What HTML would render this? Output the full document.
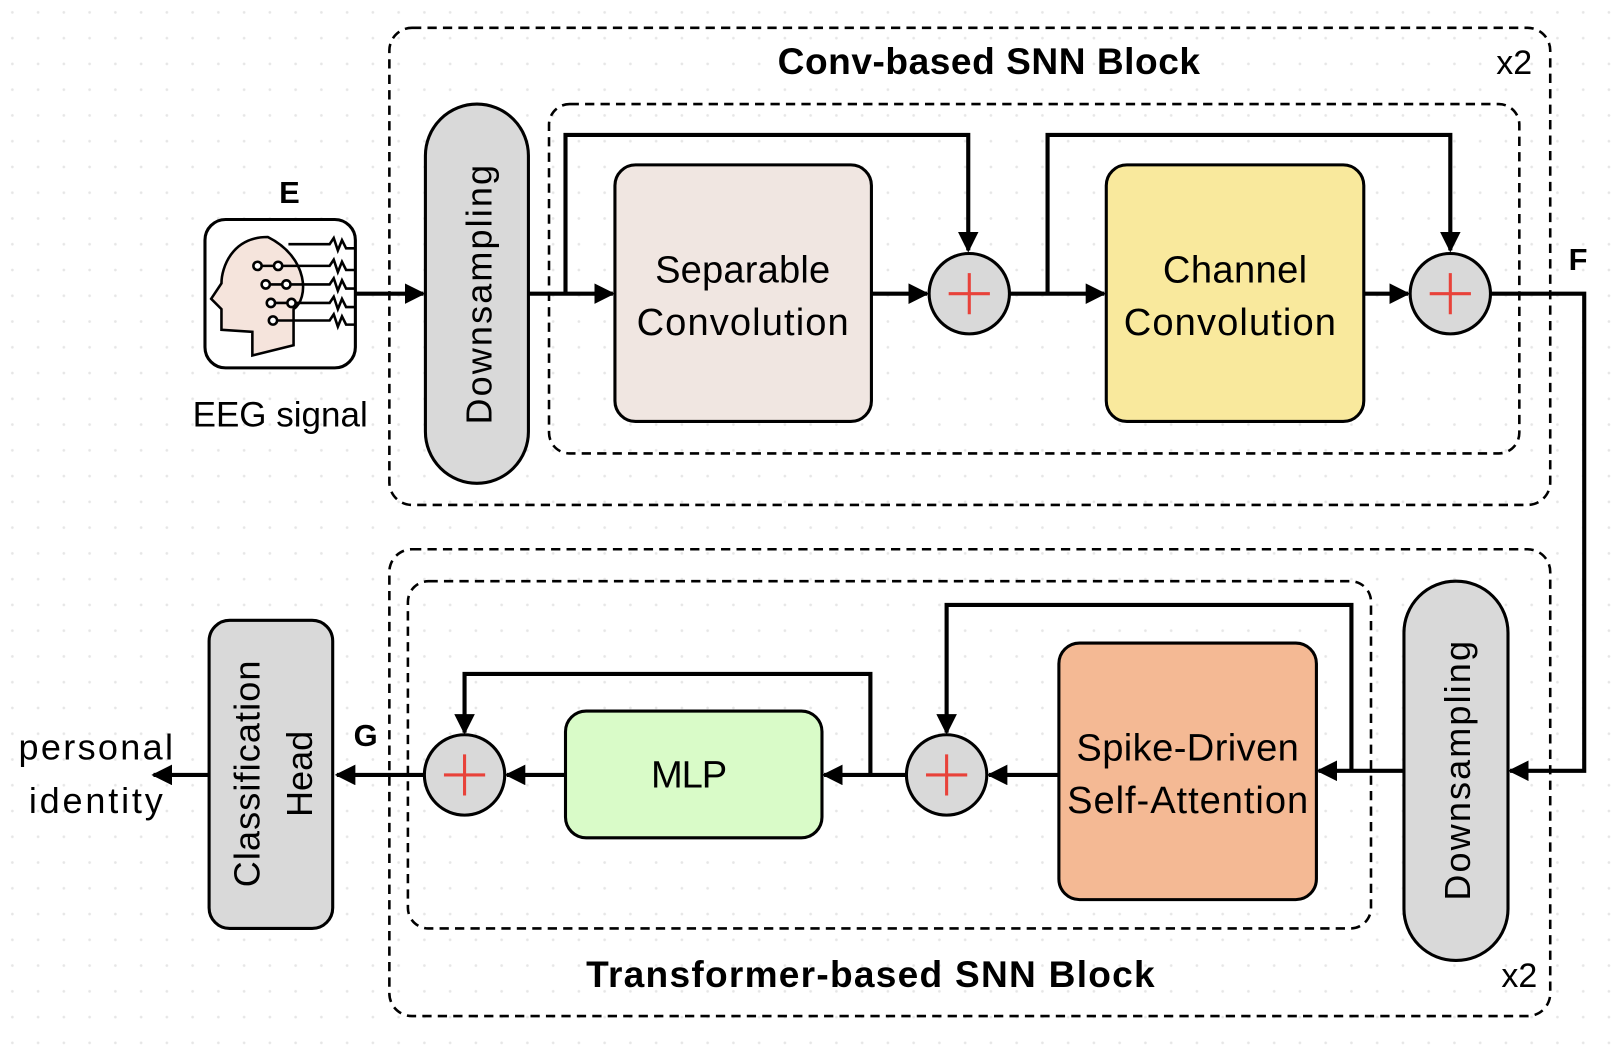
<!DOCTYPE html>
<html><head><style>
html,body{margin:0;padding:0;background:#fff;}
svg{display:block;}
text{font-family:"Liberation Sans",sans-serif;}
</style></head><body>
<svg width="1611" height="1048" viewBox="0 0 1564 1017" preserveAspectRatio="none" xmlns="http://www.w3.org/2000/svg">
<defs>
<pattern id="dots" width="25" height="25" patternUnits="userSpaceOnUse"><circle cx="12" cy="12" r="1.3" fill="#e6e6e6"/></pattern>
<marker id="ab" markerWidth="20" markerHeight="20" refX="18" refY="10" orient="auto" markerUnits="userSpaceOnUse"><path d="M0,0 L20,10 L0,20 Z" fill="#000"/></marker>
</defs>
<rect width="1564" height="1017" fill="url(#dots)"/>
<g fill="none" stroke="#000" stroke-width="2.5" stroke-dasharray="9,6">
<rect x="378" y="27" width="1127" height="463" rx="22"/>
<rect x="533" y="101" width="942" height="339" rx="20"/>
<rect x="378" y="533" width="1127" height="453" rx="22"/>
<rect x="396" y="564" width="935" height="337" rx="20"/>
</g>
<text x="960" y="72" font-size="36" font-weight="bold" text-anchor="middle" textLength="410">Conv-based SNN Block</text>
<text x="1470" y="72" font-size="33" text-anchor="middle">x2</text>
<text x="845" y="958" font-size="36" font-weight="bold" text-anchor="middle" textLength="552">Transformer-based SNN Block</text>
<text x="1475" y="958" font-size="33" text-anchor="middle">x2</text>

<!-- EEG -->
<text x="281" y="197" font-size="30" font-weight="bold" text-anchor="middle">E</text>
<rect x="199" y="213" width="146" height="144" rx="20" fill="#fff" stroke="#000" stroke-width="3"/>
<path d="M260,230 C225,230 215,260 215,275 L205,290 L215,300 L215,320 L245,322 L245,345 L285,335 L285,300 C300,290 300,250 260,230 Z" fill="#f5e4dc" stroke="#000" stroke-width="2.5"/>
<g stroke="#000" stroke-width="2.5" fill="none">
<path d="M250,258 H320 l4,-6 l4,12 l4,-10 l4,8 H345 M258,276 H320 l4,-6 l4,12 l4,-10 l4,8 H345 M263,294 H320 l4,-6 l4,12 l4,-10 l4,8 H345 M265,311 H320 l4,-6 l4,12 l4,-10 l4,8 H345 M280,237 H320 l4,-6 l4,12 l4,-10 l4,8 H345"/>
<circle cx="250" cy="258" r="4" fill="#fff"/><circle cx="270" cy="258" r="4" fill="#fff"/>
<circle cx="258" cy="276" r="4" fill="#fff"/><circle cx="278" cy="276" r="4" fill="#fff"/>
<circle cx="263" cy="294" r="4" fill="#fff"/><circle cx="283" cy="294" r="4" fill="#fff"/>
<circle cx="265" cy="311" r="4" fill="#fff"/>
</g>
<text x="272" y="414" font-size="34" text-anchor="middle">EEG signal</text>

<!-- pills -->
<rect x="413" y="101" width="100" height="368" rx="50" fill="#d9d9d9" stroke="#000" stroke-width="3"/>
<text transform="translate(477,286) rotate(-90)" font-size="35" text-anchor="middle" textLength="252">Downsampling</text>
<rect x="1363" y="564" width="101" height="368" rx="50" fill="#d9d9d9" stroke="#000" stroke-width="3"/>
<text transform="translate(1427,748) rotate(-90)" font-size="35" text-anchor="middle" textLength="252">Downsampling</text>
<rect x="203" y="602" width="120" height="299" rx="20" fill="#d9d9d9" stroke="#000" stroke-width="3"/>
<text transform="translate(252,751) rotate(-90)" font-size="35" text-anchor="middle" textLength="220">Classification</text>
<text transform="translate(303,751) rotate(-90)" font-size="35" text-anchor="middle">Head</text>

<!-- boxes -->
<rect x="597" y="160" width="249" height="249" rx="20" fill="#f0e6e1" stroke="#000" stroke-width="3"/>
<text x="721" y="274" font-size="37" text-anchor="middle" textLength="170">Separable</text>
<text x="721" y="325" font-size="37" text-anchor="middle" textLength="206">Convolution</text>
<rect x="1074" y="160" width="250" height="249" rx="20" fill="#f9e99d" stroke="#000" stroke-width="3"/>
<text x="1199" y="274" font-size="37" text-anchor="middle" textLength="140">Channel</text>
<text x="1194" y="325" font-size="37" text-anchor="middle" textLength="206">Convolution</text>
<rect x="1028" y="624" width="250" height="249" rx="20" fill="#f4b994" stroke="#000" stroke-width="3"/>
<text x="1153" y="738" font-size="37" text-anchor="middle" textLength="216">Spike-Driven</text>
<text x="1153" y="789" font-size="37" text-anchor="middle" textLength="234">Self-Attention</text>
<rect x="549" y="690" width="249" height="123" rx="20" fill="#d9fbc8" stroke="#000" stroke-width="3"/>
<text x="669" y="764" font-size="37" text-anchor="middle" textLength="74">MLP</text>

<!-- connectors -->
<g stroke="#000" stroke-width="4" fill="none">
<path d="M345,285 H411" marker-end="url(#ab)"/>
<path d="M513,285 H595" marker-end="url(#ab)"/>
<path d="M549,285 V131 H940 V243" marker-end="url(#ab)"/>
<path d="M846,285 H900" marker-end="url(#ab)"/>
<path d="M980,285 H1072" marker-end="url(#ab)"/>
<path d="M1017,285 V131 H1408 V243" marker-end="url(#ab)"/>
<path d="M1324,285 H1367" marker-end="url(#ab)"/>
<path d="M1447,285 H1538 V748 H1466" marker-end="url(#ab)"/>
<path d="M1363,748 H1280" marker-end="url(#ab)"/>
<path d="M1312,748 V587 H919 V711" marker-end="url(#ab)"/>
<path d="M1028,752 H960" marker-end="url(#ab)"/>
<path d="M880,752 H800" marker-end="url(#ab)"/>
<path d="M845,752 V654 H451 V711" marker-end="url(#ab)"/>
<path d="M549,752 H492" marker-end="url(#ab)"/>
<path d="M412,752 H327" marker-end="url(#ab)"/>
<path d="M203,752 H149" marker-end="url(#ab)"/>
</g>

<!-- circles -->
<g stroke="#000" stroke-width="3" fill="#d9d9d9">
<circle cx="941" cy="285" r="39"/><circle cx="1408" cy="285" r="39"/>
<circle cx="919" cy="752" r="39"/><circle cx="451" cy="752" r="39"/>
</g>
<g stroke="#e8423a" stroke-width="3">
<path d="M921,285 H961 M941,265 V305"/><path d="M1388,285 H1428 M1408,265 V305"/>
<path d="M899,752 H939 M919,732 V772"/><path d="M431,752 H471 M451,732 V772"/>
</g>

<text x="1532" y="262" font-size="30" font-weight="bold" text-anchor="middle">F</text>
<text x="355" y="724" font-size="30" font-weight="bold" text-anchor="middle">G</text>
<text x="93" y="737" font-size="35" text-anchor="middle" textLength="150">personal</text>
<text x="93" y="789" font-size="35" text-anchor="middle" textLength="130">identity</text>
</svg>
</body></html>
